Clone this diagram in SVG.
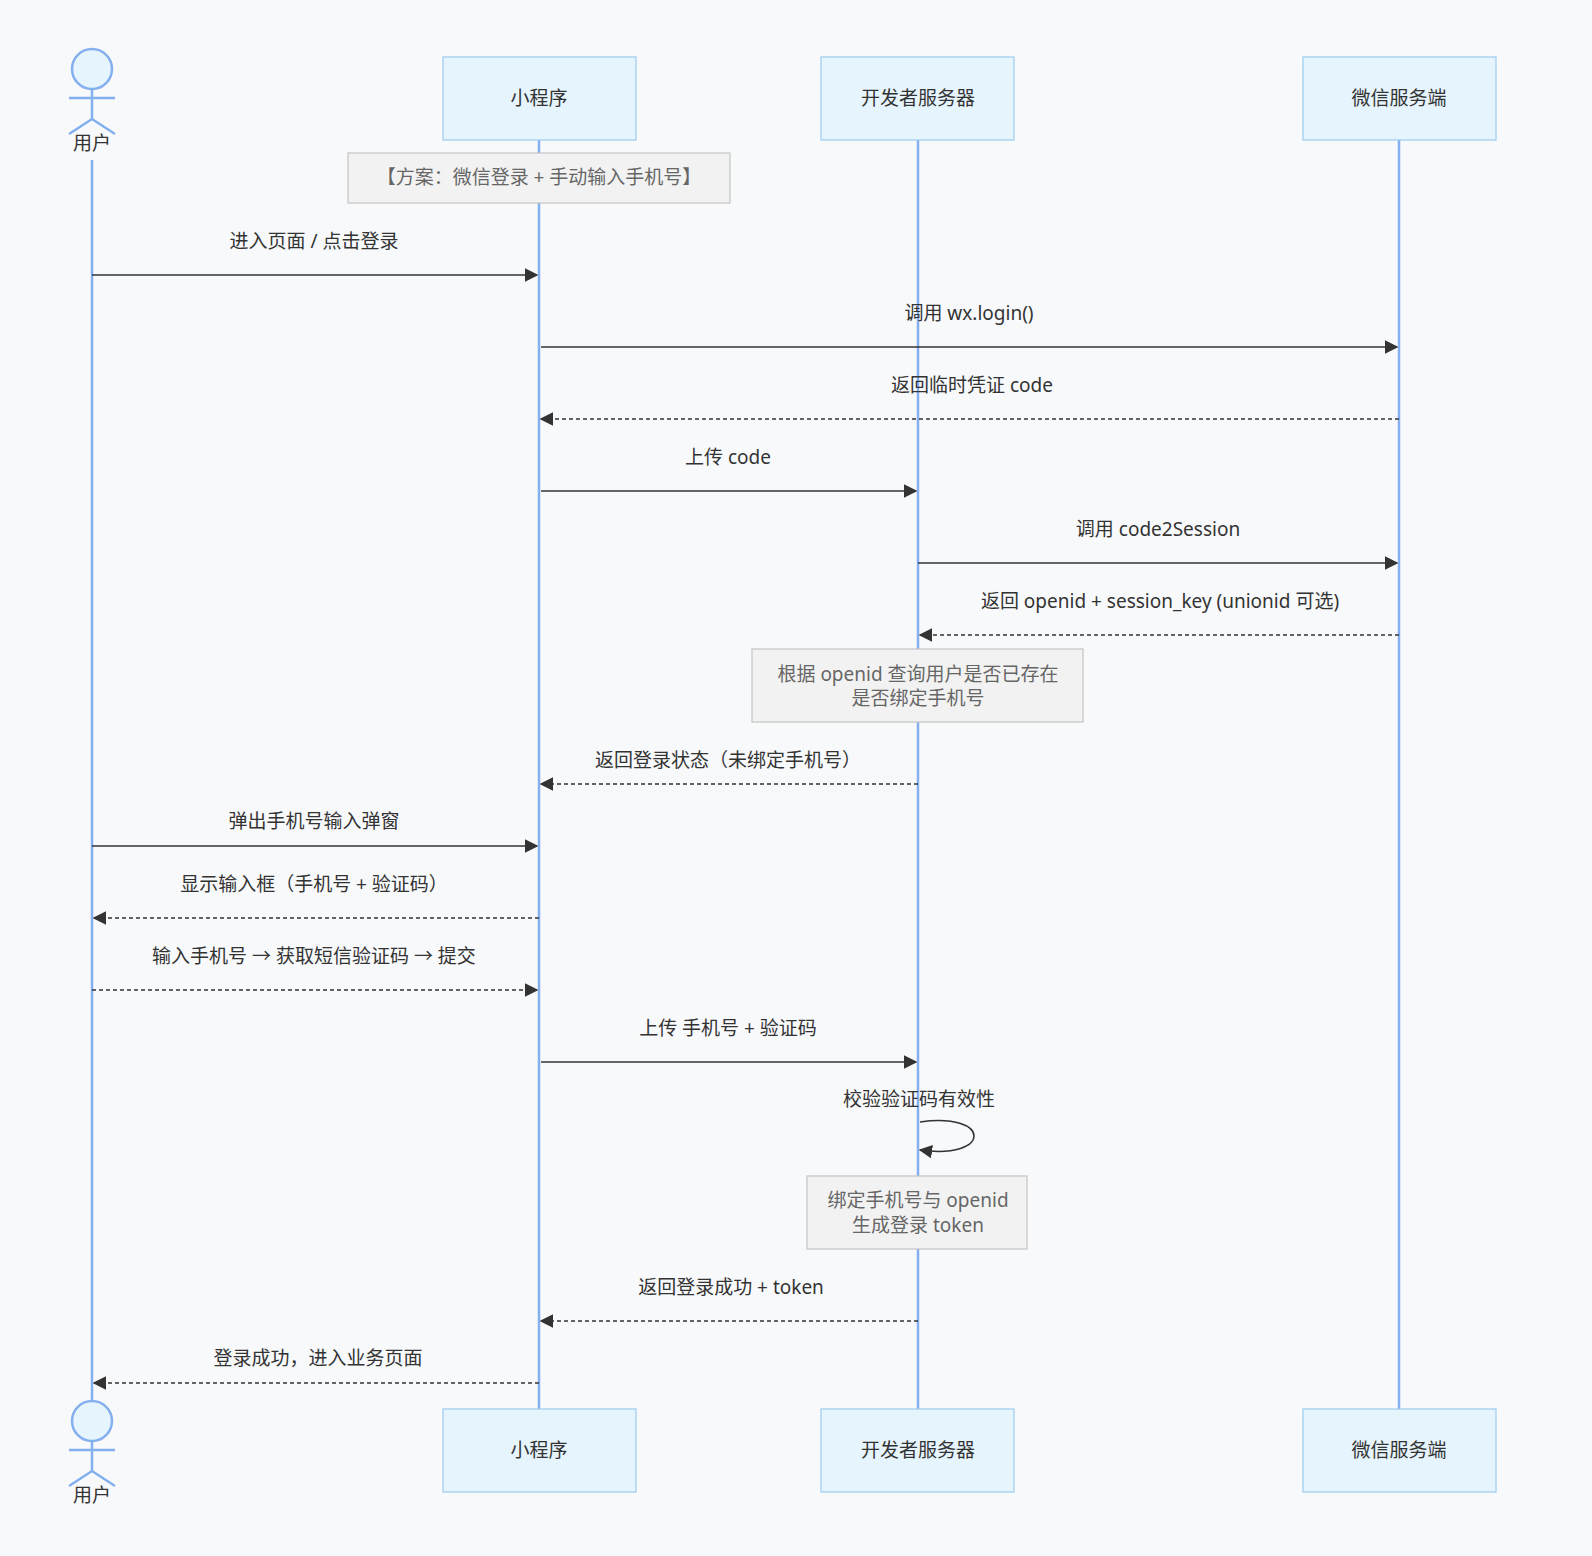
<svg xmlns="http://www.w3.org/2000/svg" width="1592" height="1556" viewBox="0 0 1592 1556">
<style>
text{font-family:"Noto Sans","Noto Sans CJK SC",sans-serif;font-size:19px;fill:#333;text-anchor:middle}
.box{fill:#e6f4fd;stroke:#9ccbef;stroke-width:1.2}
.life{stroke:#84b0ef;stroke-width:2.5}
.actor{fill:#e6f4fd;stroke:#84b0ef;stroke-width:2.5}
.note{fill:#f2f2f2;stroke:#c4c4c4;stroke-width:1.2}
.nt{fill:#666}
.m{stroke:#333;stroke-width:1.5;fill:none}
.d{stroke-dasharray:4,3}
</style>
<defs><marker id="a" viewBox="0 0 10 10" refX="9" refY="5" markerWidth="9" markerHeight="9" orient="auto"><path d="M0,0L10,5L0,10z" fill="#333"/></marker></defs>
<rect width="1592" height="1556" fill="#f8f9fb"/>
<g id="lifelines">
<line class="life" x1="92" y1="160" x2="92" y2="1400"/>
<line class="life" x1="539" y1="140" x2="539" y2="1409"/>
<line class="life" x1="918" y1="140" x2="918" y2="1409"/>
<line class="life" x1="1399" y1="140" x2="1399" y2="1409"/>
</g>
<g id="user-top"><circle class="actor" cx="92" cy="69" r="20"/><path class="actor" d="M92,89V119M69,98H115M92,119L69,134M92,119L115,134" fill="none"/><text x="92" y="150">用户</text></g>
<g id="user-bot"><circle class="actor" cx="92" cy="1421" r="20"/><path class="actor" d="M92,1441V1471M69,1450H115M92,1471L69,1486M92,1471L115,1486" fill="none"/><text x="92" y="1502">用户</text></g>
<g id="mp-top"><rect class="box" x="443" y="57" width="193" height="83"/><text x="539" y="105">小程序</text></g>
<g id="dev-top"><rect class="box" x="821" y="57" width="193" height="83"/><text x="918" y="105">开发者服务器</text></g>
<g id="wx-top"><rect class="box" x="1303" y="57" width="193" height="83"/><text x="1399" y="105">微信服务端</text></g>
<g id="mp-bot"><rect class="box" x="443" y="1409" width="193" height="83"/><text x="539" y="1457">小程序</text></g>
<g id="dev-bot"><rect class="box" x="821" y="1409" width="193" height="83"/><text x="918" y="1457">开发者服务器</text></g>
<g id="wx-bot"><rect class="box" x="1303" y="1409" width="193" height="83"/><text x="1399" y="1457">微信服务端</text></g>
<g id="note1"><rect class="note" x="348" y="153" width="382" height="50"/><text class="nt" x="539" y="184">【方案：微信登录 + 手动输入手机号】</text></g>
<g id="note2"><rect class="note" x="752" y="649" width="331" height="73"/><text class="nt" x="918" y="681">根据 openid 查询用户是否已存在</text><text class="nt" x="918" y="705">是否绑定手机号</text></g>
<g id="note3"><rect class="note" x="807" y="1176" width="220" height="73"/><text class="nt" x="918" y="1207">绑定手机号与 openid</text><text class="nt" x="918" y="1232">生成登录 token</text></g>
<g id="connectors">
<line class="m" x1="92" y1="275" x2="537" y2="275" marker-end="url(#a)"/><text x="314" y="248">进入页面 / 点击登录</text>
<line class="m" x1="541" y1="347" x2="1397" y2="347" marker-end="url(#a)"/><text x="969" y="320">调用 wx.login()</text>
<line class="m d" x1="1399" y1="419" x2="541" y2="419" marker-end="url(#a)"/><text x="972" y="392">返回临时凭证 code</text>
<line class="m" x1="541" y1="491" x2="916" y2="491" marker-end="url(#a)"/><text x="728" y="464">上传 code</text>
<line class="m" x1="918" y1="563" x2="1397" y2="563" marker-end="url(#a)"/><text x="1158" y="536">调用 code2Session</text>
<line class="m d" x1="1399" y1="635" x2="920" y2="635" marker-end="url(#a)"/><text x="1160" y="608">返回 openid + session_key (unionid 可选)</text>
<line class="m d" x1="918" y1="784" x2="541" y2="784" marker-end="url(#a)"/><text x="728" y="767">返回登录状态（未绑定手机号）</text>
<line class="m" x1="92" y1="846" x2="537" y2="846" marker-end="url(#a)"/><text x="314" y="828">弹出手机号输入弹窗</text>
<line class="m d" x1="539" y1="918" x2="94" y2="918" marker-end="url(#a)"/><text x="314" y="891">显示输入框（手机号 + 验证码）</text>
<line class="m d" x1="92" y1="990" x2="537" y2="990" marker-end="url(#a)"/><text x="314" y="963">输入手机号 → 获取短信验证码 → 提交</text>
<line class="m" x1="541" y1="1062" x2="916" y2="1062" marker-end="url(#a)"/><text x="728" y="1035">上传 手机号 + 验证码</text>
<text x="919" y="1106">校验验证码有效性</text>
<path class="m" d="M920,1122C992,1112 992,1160 920,1150" marker-end="url(#a)"/>
<line class="m d" x1="918" y1="1321" x2="541" y2="1321" marker-end="url(#a)"/><text x="731" y="1294">返回登录成功 + token</text>
<line class="m d" x1="539" y1="1383" x2="94" y2="1383" marker-end="url(#a)"/><text x="318" y="1365">登录成功，进入业务页面</text>
</g>
</svg>
